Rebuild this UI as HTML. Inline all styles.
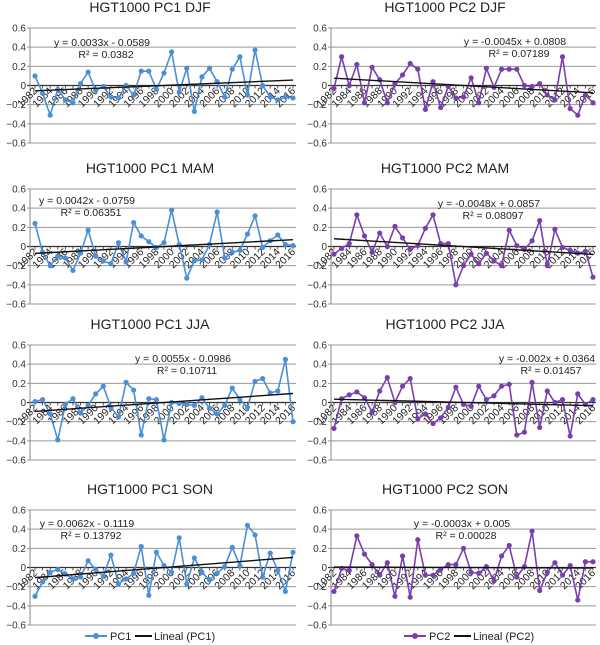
<!DOCTYPE html>
<html><head><meta charset="utf-8">
<style>
html,body{margin:0;padding:0;background:#fff;}
svg{display:block;font-family:"Liberation Sans",Arial,sans-serif;}
</style></head>
<body>
<svg id="chart" width="600" height="645" viewBox="0 0 600 645" xmlns="http://www.w3.org/2000/svg"></svg>
<script>
const years = [];
for (let y = 1982; y <= 2016; y++) years.push(y);
const yTicks = [0.6, 0.4, 0.2, 0, -0.2, -0.4, -0.6];
const yTickLabels = ["0.6", "0.4", "0.2", "0", "\u22120.2", "\u22120.4", "\u22120.6"];
const titles = ["HGT1000 PC1 DJF","HGT1000 PC2 DJF","HGT1000 PC1 MAM","HGT1000 PC2 MAM","HGT1000 PC1 JJA","HGT1000 PC2 JJA","HGT1000 PC1 SON","HGT1000 PC2 SON"];
const pc1DJF = [0.10,-0.08,-0.31,-0.04,-0.15,-0.18,0.02,0.14,-0.05,-0.01,-0.12,-0.13,0.0,-0.10,0.15,0.15,-0.04,0.13,0.35,-0.07,0.18,-0.27,0.09,0.18,0.04,-0.12,0.17,0.30,-0.10,0.37,0.0,-0.12,-0.15,-0.12,-0.13];
const pc2DJF = [-0.03,0.30,0.0,0.22,-0.18,0.19,0.06,-0.18,0.02,0.11,0.23,0.17,-0.25,0.04,-0.23,-0.01,-0.13,-0.12,0.08,-0.18,0.18,-0.02,0.17,0.17,0.17,0.0,-0.01,0.02,-0.10,-0.15,0.30,-0.24,-0.31,-0.10,-0.18];
const pc1MAM = [0.24,-0.06,-0.20,-0.10,-0.12,-0.25,-0.07,0.17,-0.10,-0.15,-0.18,0.04,-0.16,0.25,0.11,0.05,-0.01,0.04,0.38,0.02,-0.33,-0.15,-0.14,0.02,0.36,-0.12,-0.06,-0.04,0.13,0.32,-0.01,0.06,0.12,0.02,0.01];
const pc2MAM = [-0.08,-0.02,0.03,0.33,0.11,-0.06,0.14,0.0,0.21,0.09,-0.03,0.01,0.19,0.33,0.03,0.03,-0.40,-0.20,-0.08,-0.18,-0.07,-0.15,-0.20,0.17,0.01,-0.03,0.06,0.27,-0.20,0.18,-0.01,-0.04,-0.07,-0.05,-0.32];
const pc1JJA = [0.01,0.03,-0.12,-0.39,-0.02,0.04,-0.11,-0.03,0.09,0.17,-0.05,-0.15,0.21,0.13,-0.34,0.04,0.03,-0.39,0.0,-0.01,-0.02,-0.03,0.05,-0.06,-0.12,-0.03,0.15,0.03,-0.05,0.22,0.25,0.10,0.12,0.45,-0.20];
const pc2JJA = [-0.27,0.04,0.08,0.11,0.05,-0.10,0.12,0.26,0.0,0.17,0.25,-0.17,-0.12,-0.22,-0.16,-0.05,0.16,-0.02,-0.04,0.17,0.03,0.07,0.17,0.19,-0.34,-0.31,0.21,-0.26,0.12,0.0,0.03,-0.35,0.09,-0.02,0.03];
const pc1SON = [-0.30,-0.15,-0.05,-0.02,-0.07,-0.12,-0.10,0.07,-0.02,-0.09,0.13,-0.17,-0.12,-0.06,0.22,-0.29,0.16,0.02,-0.05,0.31,-0.17,0.10,-0.05,-0.13,-0.06,0.01,0.21,0.02,0.44,0.34,-0.10,0.15,-0.03,-0.25,0.16];
const pc2SON = [-0.25,-0.01,-0.03,0.33,0.14,0.03,-0.08,0.05,-0.30,0.12,-0.31,0.29,-0.08,-0.08,-0.02,0.03,0.03,0.20,-0.05,-0.06,0.01,-0.14,0.12,0.23,-0.10,0.01,0.38,-0.24,-0.05,0.05,-0.08,0.02,-0.34,0.06,0.06];
const slopes = [0.0033,-0.0045,0.0042,-0.0048,0.0055,-0.002,0.0062,-0.0003];
const intercepts = [-0.0589,0.0808,-0.0759,0.0857,-0.0986,0.0364,-0.1119,0.005];
const eqLabels = ["y = 0.0033x - 0.0589","y = -0.0045x + 0.0808","y = 0.0042x - 0.0759","y = -0.0048x + 0.0857","y = 0.0055x - 0.0986","y = -0.002x + 0.0364","y = 0.0062x - 0.1119","y = -0.0003x + 0.005"];
const r2Labels = ["R\u00b2 = 0.0382","R\u00b2 = 0.07189","R\u00b2 = 0.06351","R\u00b2 = 0.08097","R\u00b2 = 0.10711","R\u00b2 = 0.01457","R\u00b2 = 0.13792","R\u00b2 = 0.00028"];
const seriesList = [pc1DJF,pc2DJF,pc1MAM,pc2MAM,pc1JJA,pc2JJA,pc1SON,pc2SON];

const svg = document.getElementById('chart');
const NS = 'http://www.w3.org/2000/svg';
function mk(tag, attrs, parent) {
  const e = document.createElementNS(NS, tag);
  for (const k in attrs) e.setAttribute(k, attrs[k]);
  (parent || svg).appendChild(e);
  return e;
}
const rowTops = [28, 189, 345, 510];
const rowH = 115;
const eqPos = [[102,42],[515,41],[87,200],[489,203],[183,358],[547,358],[87,523],[462,523]];

for (let p = 0; p < 8; p++) {
  const col = p % 2, row = Math.floor(p / 2);
  const isPC1 = col === 0;
  const color = isPC1 ? '#4a8fd8' : '#7a3fae';
  const axisX = col ? 331 : 30;
  const gridEnd = col ? 596 : 296;
  const x0 = col ? 334 : 35, x1 = col ? 593 : 293;
  const top = rowTops[row];
  const g = mk('g', {});
  
  
  const xs = i => x0 + (x1 - x0) * i / (years.length - 1);
  const ys = v => top + (0.6 - v) / 1.2 * rowH;
  const t = mk('text', {x: col ? 445 : 150, y: top - 16, 'text-anchor': 'middle', 'font-size': 14, fill: '#222'}, g);
  t.textContent = titles[p];
  
  
  yTicks.forEach((v, k) => {
    const y = ys(v);
    const ln = mk('line', {x1: axisX - 3, x2: gridEnd, y1: y, y2: y, stroke: v === 0 ? '#333' : '#999', 'stroke-width': v === 0 ? 1.2 : 1}, g);
    
    
    const tl = mk('text', {x: axisX - 4, y: y + 3.5, 'text-anchor': 'end', 'font-size': 10, fill: '#333'}, g);
    tl.textContent = yTickLabels[k];
    
    
  });
  const ax = mk('line', {x1: axisX, x2: axisX, y1: ys(0.6), y2: ys(-0.6), stroke: '#888', 'stroke-width': 1}, g);
  
  
  years.forEach((yr, i) => {
    const tk = mk('line', {x1: xs(i), x2: xs(i), y1: ys(0), y2: ys(0) + 3, stroke: '#333', 'stroke-width': 0.8}, g);
    
    
    if (i % 2 === 0) {
      const lx = xs(i) + 3, ly = ys(0) + 6;
      const xl = mk('text', {x: lx, y: ly, 'text-anchor': 'end', 'font-size': 10.5, fill: '#222', transform: 'rotate(-45 ' + lx + ' ' + ly + ')'}, g);
      xl.textContent = yr;
      
      
    }
  });
  const data = seriesList[p];
  const pts = data.map((v, i) => xs(i).toFixed(1) + ',' + ys(v).toFixed(1)).join(' ');
  const pl = mk('polyline', {points: pts, fill: 'none', stroke: color, 'stroke-width': 1.6}, g);
  
  
  data.forEach((v, i) => {
    const c = mk('circle', {cx: xs(i), cy: ys(v), r: 2.6, fill: color}, g);
    
    
  });
  const n = years.length;
  const tr = mk('line', {x1: xs(0), y1: ys(slopes[p] * 1 + intercepts[p]), x2: xs(n - 1), y2: ys(slopes[p] * n + intercepts[p]), stroke: '#111', 'stroke-width': 1.4}, g);
  
  
  const e1 = mk('text', {x: eqPos[p][0], y: eqPos[p][1] + 4, 'text-anchor': 'middle', 'font-size': 10.5, fill: '#222'}, g);
  e1.textContent = eqLabels[p];
  
  
  const e2 = mk('text', {x: eqPos[p][0] + 4, y: eqPos[p][1] + 16, 'text-anchor': 'middle', 'font-size': 10.5, fill: '#222'}, g);
  e2.textContent = r2Labels[p];
  
  
}
[[85, '#4a8fd8', 'PC1', 'Lineal (PC1)'], [404, '#7a3fae', 'PC2', 'Lineal (PC2)']].forEach(L => {
  const g = mk('g', {});
  
  
  mk('line', {x1: L[0], x2: L[0] + 22, y1: 636, y2: 636, stroke: L[1], 'stroke-width': 2}, g);
  mk('circle', {cx: L[0] + 11, cy: 636, r: 3, fill: L[1]}, g);
  const a = mk('text', {x: L[0] + 25, y: 640, 'font-size': 11, fill: '#222'}, g);
  a.textContent = L[2];
  mk('line', {x1: L[0] + 50, x2: L[0] + 67, y1: 636, y2: 636, stroke: '#111', 'stroke-width': 2}, g);
  const b = mk('text', {x: L[0] + 69, y: 640, 'font-size': 11, fill: '#222'}, g);
  b.textContent = L[3];
});
</script>
</body></html>
